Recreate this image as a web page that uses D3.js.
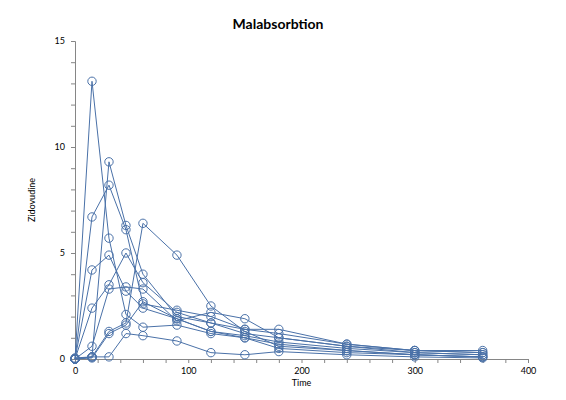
<!DOCTYPE html>
<html>
<head>
<meta charset="utf-8">
<script src="https://cdn.jsdelivr.net/npm/d3@7"></script>
<style>
  body { margin: 0; background: #fff; }
  text { font-family: Lato, "Open Sans", sans-serif; }
</style>
</head>
<body>
<div id="chart"></div>
<script>
// sampling times (min)
const times = [0, 15, 30, 45, 60, 90, 120, 150, 180, 240, 300, 360];

// zidovudine concentration per subject
const subj1 = [0, 13.1, 5.7, 2.1, 1.5, 1.6, 1.2, 1.0, 0.7, 0.4, 0.2, 0.1];
const subj2 = [0, 6.7, 8.2, 6.1, 2.6, 2.3, 2.0, 1.4, 1.2, 0.7, 0.4, 0.3];
const subj3 = [0, 0.1, 9.3, 6.3, 4.0, 2.0, 1.7, 1.2, 1.0, 0.6, 0.3, 0.2];
const subj4 = [0, 4.2, 4.9, 3.2, 2.4, 1.9, 1.3, 1.1, 0.8, 0.5, 0.3, 0.2];
const subj5 = [0, 2.4, 3.5, 5.0, 3.6, 2.2, 1.7, 1.4, 1.4, 0.7, 0.4, 0.4];
const subj6 = [0, 0.6, 3.3, 3.4, 3.3, 1.8, 2.2, 1.9, 1.0, 0.6, 0.4, 0.3];
const subj7 = [0, 0.1, 1.3, 1.7, 6.4, 4.9, 2.5, 1.3, 0.6, 0.4, 0.2, 0.1];
const subj8 = [0, 0.05, 1.2, 1.6, 2.7, 1.9, 1.3, 1.0, 0.5, 0.3, 0.2, 0.1];
const subj9 = [0.05, 0.1, 0.1, 1.2, 1.1, 0.85, 0.3, 0.2, 0.35, 0.2, 0.1, 0.05];

const subjects = [subj1, subj2, subj3, subj4, subj5, subj6, subj7, subj8, subj9];

const xTicks = [0, 100, 200, 300, 400];
const yTicks = [0, 5, 10, 15];

const W = 566, H = 400;
const m = { left: 75, right: 38, top: 41, bottom: 41 };
const blue = "#4a71a8";
const axisGrey = "#868686";

const svg = d3.select("#chart").append("svg")
    .attr("width", W)
    .attr("height", H);

const x = d3.scaleLinear().domain([0, 400]).range([m.left, W - m.right]);
const y = d3.scaleLinear().domain([0, 15]).range([H - m.bottom, m.top]);

// title
svg.append("text")
    .attr("x", 278)
    .attr("y", 29)
    .attr("text-anchor", "middle")
    .attr("font-size", 14)
    .attr("font-weight", "bold")
    .text("Malabsorbtion");

// x axis: minor ticks every 20, labels every 100
const xAxis = svg.append("g")
    .attr("transform", "translate(0," + y(0) + ")")
    .call(d3.axisBottom(x).tickValues(d3.range(0, 401, 20)).tickSize(4)
        .tickFormat(d => xTicks.includes(d) ? d : ""));

// y axis: minor ticks every 1, labels every 5
const yAxis = svg.append("g")
    .attr("transform", "translate(" + x(0) + ",0)")
    .call(d3.axisLeft(y).tickValues(d3.range(0, 16, 1)).tickSize(4)
        .tickFormat(d => yTicks.includes(d) ? d : ""));

[xAxis, yAxis].forEach(a => {
    a.select(".domain").attr("stroke", axisGrey);
    a.selectAll(".tick line").attr("stroke", axisGrey);
    a.selectAll(".tick text").attr("font-size", 9).attr("fill", "#000");
});
xAxis.selectAll(".tick text").attr("dy", "0.9em");
yAxis.selectAll(".tick text").attr("dx", "-3");

// axis titles
svg.append("text")
    .attr("x", (m.left + W - m.right) / 2)
    .attr("y", 386)
    .attr("text-anchor", "middle")
    .attr("font-size", 9)
    .text("Time");

svg.append("text")
    .attr("transform", "translate(35," + (H - m.bottom + m.top) / 2 + ") rotate(-90)")
    .attr("text-anchor", "middle")
    .attr("font-size", 9)
    .text("Zidovudine");

const line = d3.line()
    .x((d, i) => x(times[i]))
    .y(d => y(d));

const plot = svg.append("g");

subjects.forEach(s => {
    plot.append("path")
        .datum(s)
        .attr("d", line)
        .attr("fill", "none")
        .attr("stroke", blue)
        .attr("stroke-width", 1);

    plot.selectAll(null)
        .data(s)
        .enter()
        .append("circle")
        .attr("cx", (d, i) => x(times[i]))
        .attr("cy", d => y(d))
        .attr("r", 4.2)
        .attr("fill", "none")
        .attr("stroke", blue)
        .attr("stroke-width", 1);
});
</script>
</body>
</html>
